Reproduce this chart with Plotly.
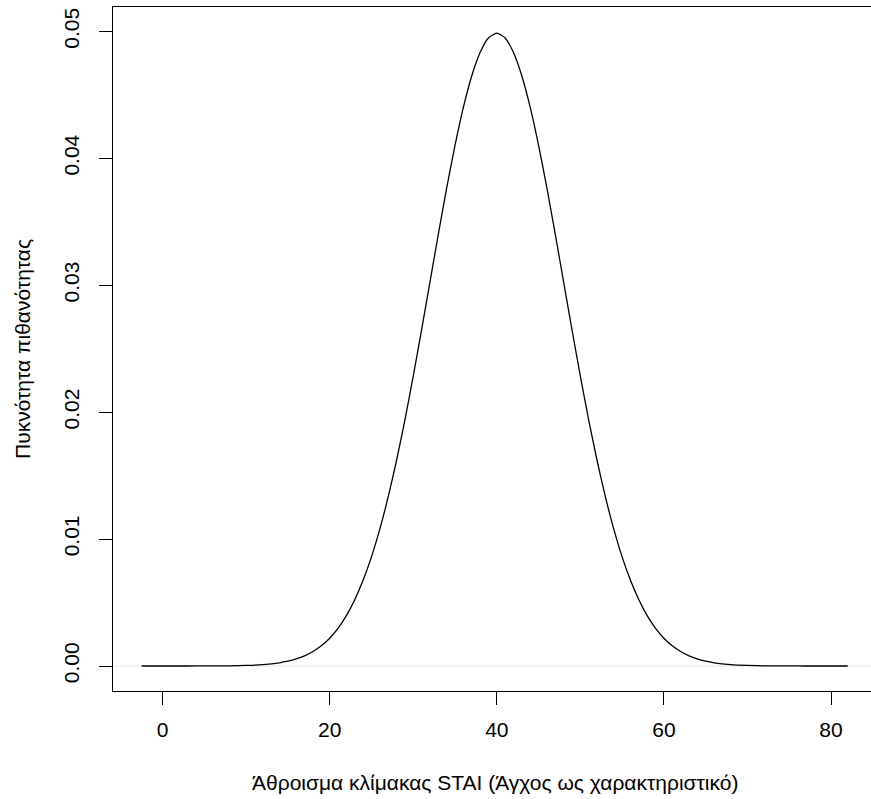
import plotly.graph_objects as go

# Values (density curve)
x_vals = [-2.5, 0, 2, 4, 6, 8, 10, 12, 14,
          15, 16, 17, 18, 19, 20, 21, 22, 23, 24, 25, 26, 27, 28, 29, 30, 31, 32, 33, 34,
          35, 36, 37, 38, 39, 40, 41, 42, 43, 44, 45, 46, 47, 48, 49, 50, 51, 52, 53, 54,
          55, 56, 57, 58, 59, 60, 61, 62, 63, 64, 65,
          66, 68, 70, 72, 74, 76, 78, 80, 82]
density = [0.00000003, 0.0000002, 0.0000006, 0.0000020, 0.0000060, 0.0000167, 0.0000441,
           0.000109, 0.000254,
           0.000378, 0.000554, 0.000800, 0.001137, 0.001590, 0.002191, 0.002971, 0.003967,
           0.005216, 0.006749, 0.008598, 0.010785, 0.013318, 0.016190, 0.019377, 0.022831,
           0.026485, 0.030247, 0.034007, 0.037642, 0.041020, 0.044008, 0.046482, 0.048334,
           0.049480, 0.049868, 0.049480, 0.048334, 0.046482, 0.044008, 0.041020, 0.037642,
           0.034007, 0.030247, 0.026485, 0.022831, 0.019377, 0.016190, 0.013318, 0.010785,
           0.008598, 0.006749, 0.005216, 0.003967, 0.002971, 0.002191, 0.001590, 0.001137,
           0.000800, 0.000554, 0.000378,
           0.000254, 0.000109, 0.0000441, 0.0000167, 0.0000060, 0.0000020, 0.0000006,
           0.0000002, 0.00000005]

x_ticks = [0, 20, 40, 60, 80]
y_ticks = [0.00, 0.01, 0.02, 0.03, 0.04, 0.05]
y_tick_labels = ["0.00", "0.01", "0.02", "0.03", "0.04", "0.05"]

x_title = "Άθροισμα κλίμακας STAI (Άγχος ως χαρακτηριστικό)"
y_title = "Πυκνότητα πιθανότητας"

FONT = "Liberation Sans, Arial, sans-serif"
FS = 21
W = 878  # plot region runs past the 871px window, as in the cropped reference

fig = go.Figure()
fig.add_trace(go.Scatter(
    x=x_vals, y=density, mode="lines",
    line=dict(color="black", width=1.3, shape="spline", smoothing=0.6),
    hoverinfo="skip", showlegend=False,
))

# faint zero line
fig.add_shape(type="line", xref="paper", yref="y", x0=0, x1=1, y0=0, y1=0,
              line=dict(color="#e4e4e4", width=1), layer="below")

fig.update_layout(
    width=W, height=799,
    margin=dict(l=113, r=0, t=7, b=108),
    paper_bgcolor="white", plot_bgcolor="white",
    font=dict(family=FONT, size=FS, color="black"),
    showlegend=False,
    xaxis=dict(
        range=[-5.93, 85.62], tickvals=x_ticks, ticktext=[str(v) for v in x_ticks],
        showgrid=False, zeroline=False, showline=True, mirror=True,
        linecolor="black", linewidth=1, ticks="outside", ticklen=13,
        tickcolor="black", tickwidth=1, ticklabelstandoff=7,
        tickfont=dict(family=FONT, size=FS, color="black"),
    ),
    yaxis=dict(
        range=[-0.00197, 0.05192], tickvals=y_ticks, ticktext=y_tick_labels,
        showgrid=False, zeroline=False, showline=True, mirror=False,
        linecolor="black", linewidth=1, ticks="outside", ticklen=13,
        tickcolor="black", tickwidth=1, tickangle=-90, ticklabelstandoff=12,
        tickfont=dict(family=FONT, size=FS, color="black"),
    ),
    annotations=[
        dict(text=x_title, xref="paper", yref="paper", x=(494.9 - 113) / (W - 113), y=-0.1345,
             xanchor="center", yanchor="middle", showarrow=False,
             font=dict(family=FONT, size=FS, color="black")),
        dict(text=y_title, xref="paper", yref="paper", x=(22 - 113) / (W - 113), y=0.5,
             xanchor="center", yanchor="middle", showarrow=False, textangle=-90,
             font=dict(family=FONT, size=FS, color="black")),
    ],
)

fig.write_html(
    "out.html",
    config={"displayModeBar": False},
    post_script="document.body.style.margin='0';document.body.style.overflow='hidden';",
)
